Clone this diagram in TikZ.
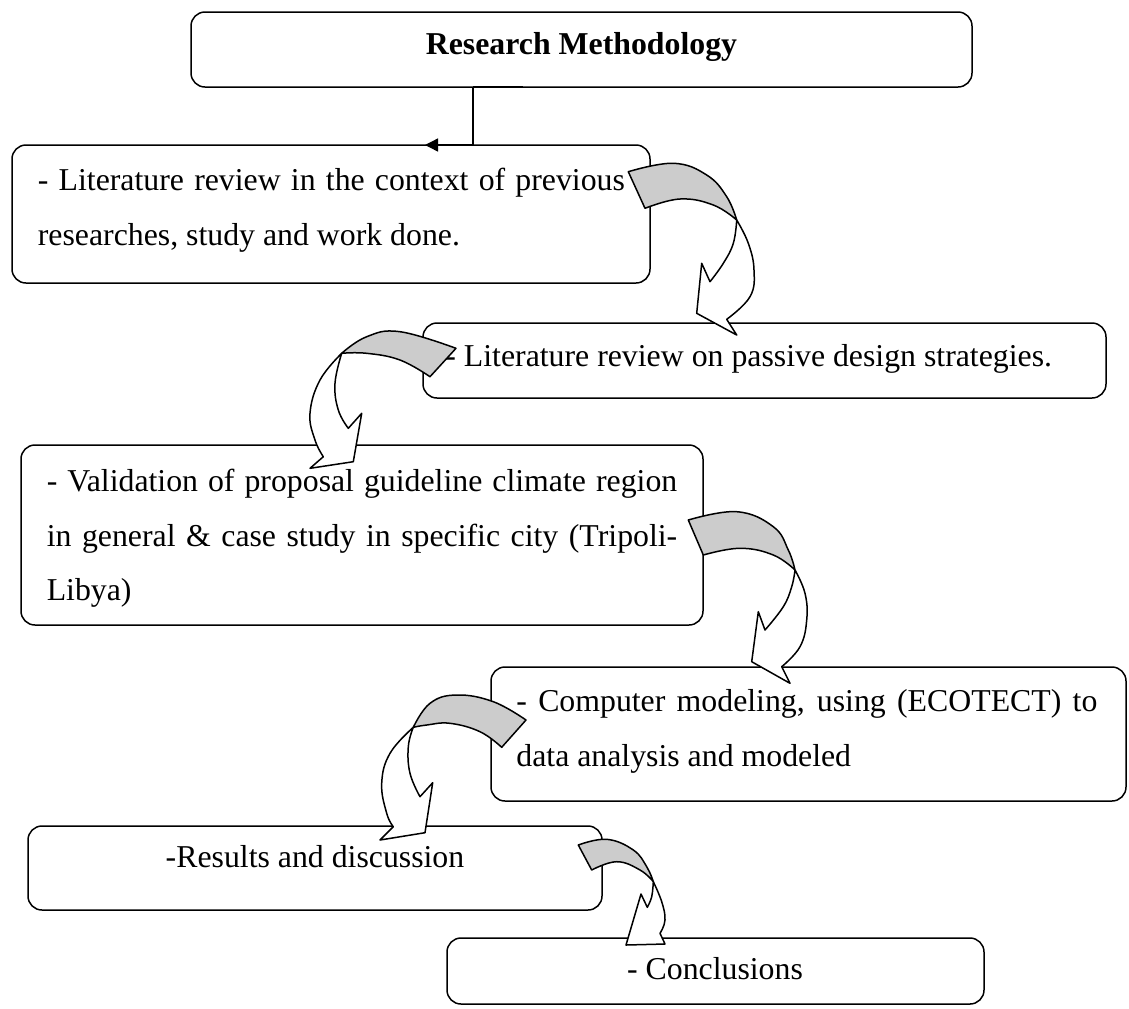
\documentclass[tikz,border=0pt]{standalone}
\usepackage{fontspec}
\setmainfont{Liberation Serif}
\usetikzlibrary{arrows.meta,fit,calc}
\definecolor{arrgray}{RGB}{204,204,204}
\begin{document}
\begin{tikzpicture}[x=0.5pt,y=-0.5pt,
  box/.style={draw, line width=0.75pt, rounded corners=7pt, inner sep=0pt, outer sep=0pt},
  txt/.style={anchor=base west, inner sep=0pt, font=\fontsize{15.9}{19}\selectfont},
  ctxt/.style={anchor=base, inner sep=0pt, font=\fontsize{15.9}{19}\selectfont},
  conn/.style={line width=0.7pt},
  cgray/.style={fill=arrgray, draw=black, line width=0.75pt, line join=round},
  cwhite/.style={fill=white, draw=black, line width=0.75pt, line join=round},
  sm/.style={smooth, tension=0.7}]
\useasboundingbox (0,0) rectangle (1129,1008);

% boxes
\node[box, fit={(191,12)(972,87)}] (b1) {};
\node[box, fit={(12,145)(650,283)}] (b2) {};
\node[box, fit={(423,323)(1106,398)}] (b3) {};
\node[box, fit={(21,445)(703,625)}] (b4) {};
\node[box, fit={(491,667)(1126,801)}] (b5) {};
\node[box, fit={(28,826)(602,910)}] (b6) {};
\node[box, fit={(447,938)(984,1004)}] (b7) {};

% texts
\node[ctxt, font=\fontsize{15.9}{19}\selectfont\bfseries] (t1) at (581.5,54) {Research Methodology};
\node[txt] (t2a) at (37.5,190) {\makebox[293.5pt][s]{- Literature review in the context of previous}};
\node[txt] (t2b) at (37.5,245) {researches, study and work done.};
\node[txt] (t3) at (445,366) {- Literature review on passive design strategies.};
\node[txt] (t4a) at (46.4,491) {\makebox[315.2pt][s]{- Validation of proposal guideline climate region}};
\node[txt] (t4b) at (46.4,546) {\makebox[315.2pt][s]{in general \& case study in specific city (Tripoli-}};
\node[txt] (t4c) at (46.4,600) {Libya)};
\node[txt] (t5a) at (516,711) {\makebox[290.5pt][s]{- Computer modeling, using (ECOTECT) to}};
\node[txt] (t5b) at (516,766) {data analysis and modeled};
\node[ctxt] (t6) at (315,867) {-Results and discussion};
\node[ctxt] (t7) at (715,979) {- Conclusions};

% elbow connector
\coordinate (k1) at (523,0);
\coordinate (k2) at (473,0);
\coordinate (k3) at (425,0);
\draw[line width=1.1pt] (b1.south -| k1) -- (b1.south -| k2);
\draw[conn, -{Triangle[length=6.5pt,width=6.5pt]}] (b1.south -| k2) -- (b2.north -| k2) -- (b2.north -| k3);

% curved arrow 1 (b2 -> b3)
\filldraw[cwhite] plot[sm] coordinates {(736.7,220) (748.3,243.3) (754,270) (750,296.7) (726.7,319.3)} -- (736.7,335) -- (696.7,313.3) -- (701.7,263.3) -- plot[sm] coordinates {(710,281.7) (723.3,263.3) (733.3,243.3) (736.7,220)} -- cycle;
\filldraw[cgray] plot[sm] coordinates {(628.3,171.7) (673.3,163.3) (706.7,175) (726.7,196.7) (736.7,220)} -- plot[sm] coordinates {(736.7,220) (713.3,205) (680,199) (645,208.3)} -- cycle;

% curved arrow 2 (b3 -> b4)
\filldraw[cwhite] plot[sm] coordinates {(341.7,353.3) (320,380) (310,413.3) (315,440) (323.3,456.7)} -- (310,468.3) -- (353.3,461.7) -- (361.7,413.3) -- plot[sm] coordinates {(348.3,428.3) (338.3,410) (335,383.3) (341.7,353.3)} -- cycle;
\filldraw[cgray] plot[sm] coordinates {(456,348.3) (400,331.7) (366.7,336.7) (341.7,353.3)} -- plot[sm] coordinates {(341.7,353.3) (366.7,353.3) (400,360) (430,376.7)} -- cycle;

% curved arrow 3 (b4 -> b5)
\filldraw[cwhite] plot[sm] coordinates {(795,570) (805,593.3) (806.7,620) (800,646.7) (781.7,666.7)} -- (790,683.3) -- (751.7,661.7) -- (758.3,611.7) -- plot[sm] coordinates {(765,630) (783.3,606.7) (791.7,586.7) (795,570)} -- cycle;
\filldraw[cgray] plot[sm] coordinates {(688.3,520) (736.7,511.7) (773.3,526.7) (788.3,550) (795,570)} -- plot[sm] coordinates {(795,570) (773.3,555) (740,548.3) (703.3,555)} -- cycle;

% curved arrow 4 (b5 -> b6)
\filldraw[cwhite] plot[sm] coordinates {(413.3,727.3) (390,753.3) (381.7,783.3) (386.7,813.3) (393.3,826.7)} -- (380,840) -- (425,832.7) -- (432.7,782.7) -- plot[sm] coordinates {(420,796.7) (410,773.3) (408.3,746.7) (413.3,727.3)} -- cycle;
\filldraw[cgray] plot[sm] coordinates {(526,720) (493.3,701.7) (456.7,695) (430,703.3) (413.3,727.3)} -- plot[sm] coordinates {(413.3,727.3) (426.7,725) (450,723.3) (480,731.7) (501.7,747.3)} -- cycle;

% curved arrow 5 (b6 -> b7)
\filldraw[cwhite] plot[sm] coordinates {(653.3,881.7) (661.7,901.7) (665,920) (660,933.3)} -- (665,944) -- (626,945) -- (641,894) -- plot[sm] coordinates {(647.3,907.3) (651.7,896.7) (653.3,881.7)} -- cycle;
\filldraw[cgray] plot[sm] coordinates {(578.3,845) (606.7,839.3) (633.3,850) (646.7,866.7) (653.3,881.7)} -- plot[sm] coordinates {(653.3,881.7) (640,870) (616.7,861.7) (591.7,870)} -- cycle;
\end{tikzpicture}
\end{document}
